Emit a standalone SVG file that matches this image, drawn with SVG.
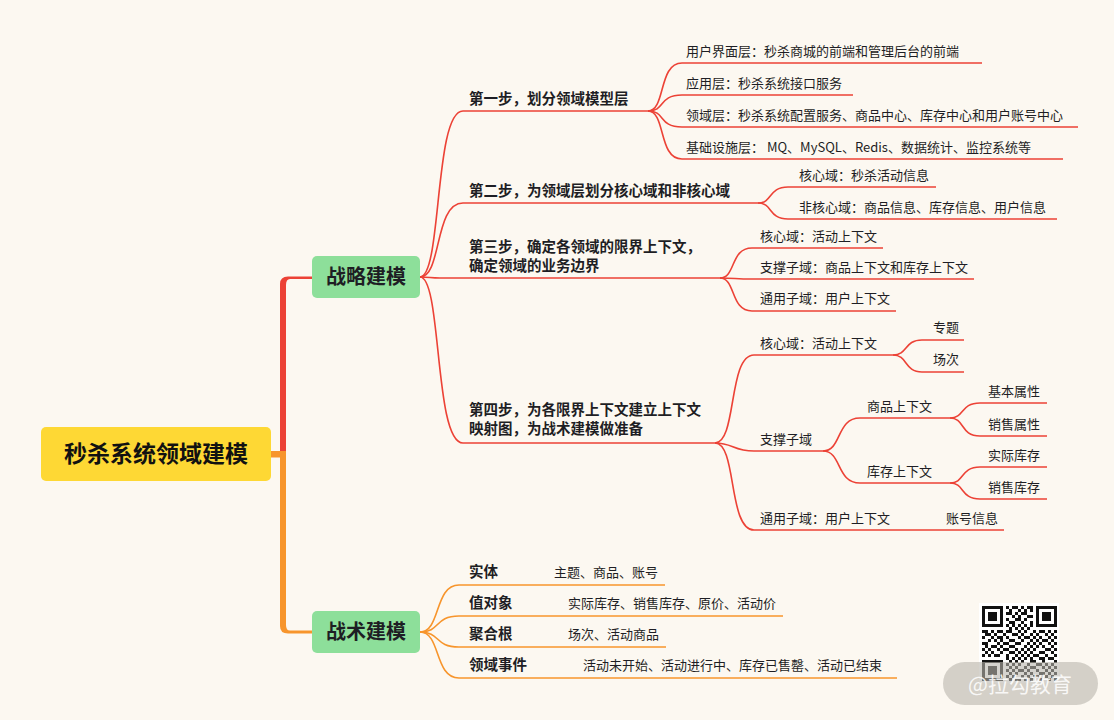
<svg xmlns="http://www.w3.org/2000/svg" width="1114" height="720" viewBox="0 0 1114 720">
<style>
text{font-family:"Noto Sans CJK SC","Noto Sans",sans-serif;fill:#1e1e24}
.l1{font-size:20px;font-weight:700;text-anchor:middle}
.root{font-size:23px;font-weight:700;text-anchor:middle;fill:#111}
.l2{font-size:14.5px;font-weight:700}
.l3{font-size:13px}
.r{fill:none;stroke:#ec4236;stroke-width:1.6}
.o{fill:none;stroke:#f7952c;stroke-width:1.6}
</style>
<rect width="1114" height="720" fill="#fcf8f1"/>
<g id="connectors">
  <path d="M280 454 L280 284 Q280 276.5 288 276.5 L312 276.5 L312 279 L290 279 Q286 279 286 285 L286 454 Z" fill="#ec4236"/>
  <path d="M280 454 L280 626 Q280 633.5 288 633.5 L312 633.5 L312 630.5 L290 630.5 Q286 630.5 286 625 L286 454 Z" fill="#f7952c"/>
  <rect x="271" y="451" width="15" height="6.5" fill="#f7952c"/>
  <path class="r" d="M420 277 C442 277 434 111 463 111 L648 111"/>
  <path class="r" d="M420 277 C442 277 434 203 463 203 L758 203"/>
  <path class="r" d="M420 277 C430 277 430 278 440 278 L720 278"/>
  <path class="r" d="M420 277 C442 277 434 443 463 443 L715 443"/>
  <path class="r" d="M648 111 C666 111 658 63 682 63 L982 63"/>
  <path class="r" d="M648 111 C666 111 658 95 682 95 L853 95"/>
  <path class="r" d="M648 111 C666 111 658 127 682 127 L1078 127"/>
  <path class="r" d="M648 111 C666 111 658 159 682 159 L1063 159"/>
  <path class="r" d="M758 203 C773 203 768 187 788 187 L936 187"/>
  <path class="r" d="M758 203 C773 203 768 219 788 219 L1057 219"/>
  <path class="r" d="M720 278 C736 278 730 248 752 248 L883 248"/>
  <path class="r" d="M720 278 C735 278 735 279 752 279 L974 279"/>
  <path class="r" d="M720 278 C736 278 730 311 752 311 L896 311"/>
  <path class="r" d="M715 443 C737 443 728 355 754 355 L893 355"/>
  <path class="r" d="M715 443 C733 443 733 451 754 451 L823 451"/>
  <path class="r" d="M715 443 C737 443 728 530 754 530 L1004 530"/>
  <path class="r" d="M893 355 C908 355 904 340 922 340 L964 340"/>
  <path class="r" d="M893 355 C908 355 904 372 922 372 L964 372"/>
  <path class="r" d="M823 451 C842 451 836 418 860 418 L950 418"/>
  <path class="r" d="M823 451 C842 451 836 483 860 483 L950 483"/>
  <path class="r" d="M950 418 C965 418 960 403 980 403 L1047 403"/>
  <path class="r" d="M950 418 C965 418 960 436 980 436 L1047 436"/>
  <path class="r" d="M950 483 C965 483 960 467 980 467 L1047 467"/>
  <path class="r" d="M950 483 C965 483 960 499 980 499 L1047 499"/>
  <path class="o" d="M420 632 C441 632 434 585 459 585 L665 585"/>
  <path class="o" d="M420 632 C441 632 434 616 459 616 L783 616"/>
  <path class="o" d="M420 632 C441 632 434 647 459 647 L666 647"/>
  <path class="o" d="M420 632 C441 632 434 678 459 678 L897 678"/>
</g>
<g id="root">
  <rect x="41" y="427" width="230" height="54" rx="5" fill="#fed834"/>
  <text class="root" x="156" y="462">秒杀系统领域建模</text>
</g>
<g id="strategic">
  <rect x="312" y="256" width="108" height="42" rx="5" fill="#8ddf9a"/>
  <text class="l1" x="366" y="284">战略建模</text>
</g>
<g id="tactical">
  <rect x="312" y="611" width="108" height="42" rx="5" fill="#8ddf9a"/>
  <text class="l1" x="366" y="639">战术建模</text>
</g>
<g id="step1">
  <text class="l2" x="469" y="104">第一步，划分领域模型层</text>
</g>
<g id="step1-children">
  <text class="l3" x="686" y="56">用户界面层：秒杀商城的前端和管理后台的前端</text>
  <text class="l3" x="686" y="88">应用层：秒杀系统接口服务</text>
  <text class="l3" x="686" y="120">领域层：秒杀系统配置服务、商品中心、库存中心和用户账号中心</text>
  <text class="l3" x="686" y="152">基础设施层： MQ、MySQL、Redis、数据统计、监控系统等</text>
</g>
<g id="step2">
  <text class="l2" x="469" y="196">第二步，为领域层划分核心域和非核心域</text>
</g>
<g id="step2-children">
  <text class="l3" x="799" y="180">核心域：秒杀活动信息</text>
  <text class="l3" x="799" y="212">非核心域：商品信息、库存信息、用户信息</text>
</g>
<g id="step3">
  <text class="l2" x="469" y="252">第三步，确定各领域的限界上下文，</text>
  <text class="l2" x="469" y="271">确定领域的业务边界</text>
</g>
<g id="step3-children">
  <text class="l3" x="760" y="241">核心域：活动上下文</text>
  <text class="l3" x="760" y="272">支撑子域：商品上下文和库存上下文</text>
  <text class="l3" x="760" y="303">通用子域：用户上下文</text>
</g>
<g id="step4">
  <text class="l2" x="469" y="415">第四步，为各限界上下文建立上下文</text>
  <text class="l2" x="469" y="434">映射图，为战术建模做准备</text>
</g>
<g id="step4-children">
  <text class="l3" x="760" y="348">核心域：活动上下文</text>
  <text class="l3" x="933" y="332">专题</text>
  <text class="l3" x="933" y="364">场次</text>
  <text class="l3" x="760" y="444">支撑子域</text>
  <text class="l3" x="867" y="411">商品上下文</text>
  <text class="l3" x="988" y="396">基本属性</text>
  <text class="l3" x="988" y="429">销售属性</text>
  <text class="l3" x="867" y="476">库存上下文</text>
  <text class="l3" x="988" y="460">实际库存</text>
  <text class="l3" x="988" y="492">销售库存</text>
  <text class="l3" x="760" y="523">通用子域：用户上下文</text>
  <text class="l3" x="946" y="523">账号信息</text>
</g>
<g id="tactical-children">
  <text class="l2" x="469" y="577">实体</text>
  <text class="l3" x="554" y="577">主题、商品、账号</text>
  <text class="l2" x="469" y="608">值对象</text>
  <text class="l3" x="568" y="608">实际库存、销售库存、原价、活动价</text>
  <text class="l2" x="469" y="639">聚合根</text>
  <text class="l3" x="568" y="639">场次、活动商品</text>
  <text class="l2" x="469" y="670">领域事件</text>
  <text class="l3" x="583" y="670">活动未开始、活动进行中、库存已售罄、活动已结束</text>
</g>
<g id="qrcode">
  <rect x="979" y="603" width="80" height="80" fill="#fff"/>
  <g transform="translate(982,606) scale(3)" fill="#111">
    <path fill-rule="evenodd" d="M0 0h7v7h-7z M1 1v5h5v-5z M2 2h3v3h-3z M18 0h7v7h-7z M19 1v5h5v-5z M20 2h3v3h-3z M0 18h7v7h-7z M1 19v5h5v-5z M2 20h3v3h-3z"/>
    <path d="M8 0h1v1h-1z M10 0h2v1h-2z M13 0h1v1h-1z M15 0h2v1h-2z M9 1h1v1h-1z M12 1h1v1h-1z M14 1h1v1h-1z M16 1h1v1h-1z M8 2h2v1h-2z M11 2h1v1h-1z M13 2h2v1h-2z M10 3h1v1h-1z M12 3h1v1h-1z M15 3h2v1h-2z M8 4h1v1h-1z M11 4h2v1h-2z M14 4h1v1h-1z M9 5h2v1h-2z M13 5h1v1h-1z M16 5h1v1h-1z M8 6h1v1h-1z M10 6h1v1h-1z M12 6h1v1h-1z M14 6h1v1h-1z M16 6h1v1h-1z M9 7h1v1h-1z M11 7h1v1h-1z M13 7h1v1h-1z M15 7h1v1h-1z M0 8h2v1h-2z M3 8h1v1h-1z M5 8h2v1h-2z M8 8h2v1h-2z M12 8h1v1h-1z M14 8h1v1h-1z M17 8h1v1h-1z M19 8h2v1h-2z M22 8h1v1h-1z M24 8h1v1h-1z M1 9h2v1h-2z M4 9h1v1h-1z M7 9h1v1h-1z M10 9h2v1h-2z M13 9h1v1h-1z M16 9h1v1h-1z M18 9h1v1h-1z M21 9h1v1h-1z M23 9h1v1h-1z M0 10h1v1h-1z M3 10h1v1h-1z M5 10h2v1h-2z M8 10h1v1h-1z M12 10h1v1h-1z M14 10h2v1h-2z M17 10h1v1h-1z M19 10h1v1h-1z M22 10h1v1h-1z M24 10h1v1h-1z M2 11h1v1h-1z M4 11h1v1h-1z M6 11h1v1h-1z M9 11h2v1h-2z M13 11h1v1h-1z M16 11h1v1h-1z M18 11h1v1h-1z M20 11h2v1h-2z M23 11h1v1h-1z M0 12h2v1h-2z M5 12h1v1h-1z M7 12h2v1h-2z M11 12h2v1h-2z M15 12h1v1h-1z M17 12h1v1h-1z M19 12h1v1h-1z M22 12h1v1h-1z M24 12h1v1h-1z M1 13h1v1h-1z M3 13h2v1h-2z M6 13h1v1h-1z M9 13h2v1h-2z M14 13h1v1h-1z M16 13h1v1h-1z M18 13h1v1h-1z M20 13h1v1h-1z M23 13h1v1h-1z M0 14h1v1h-1z M2 14h1v1h-1z M5 14h1v1h-1z M7 14h2v1h-2z M11 14h1v1h-1z M13 14h1v1h-1z M15 14h1v1h-1z M17 14h1v1h-1z M21 14h2v1h-2z M24 14h1v1h-1z M1 15h1v1h-1z M3 15h1v1h-1z M6 15h1v1h-1z M9 15h2v1h-2z M12 15h1v1h-1z M14 15h1v1h-1z M16 15h1v1h-1z M19 15h2v1h-2z M23 15h1v1h-1z M0 16h1v1h-1z M2 16h1v1h-1z M4 16h2v1h-2z M8 16h1v1h-1z M11 16h1v1h-1z M13 16h1v1h-1z M15 16h1v1h-1z M17 16h2v1h-2z M21 16h1v1h-1z M24 16h1v1h-1z M8 17h1v1h-1z M10 17h1v1h-1z M12 17h1v1h-1z M14 17h1v1h-1z M16 17h1v1h-1z M19 17h2v1h-2z M22 17h2v1h-2z M9 18h1v1h-1z M11 18h1v1h-1z M13 18h1v1h-1z M16 18h2v1h-2z M20 18h1v1h-1z M24 18h1v1h-1z M8 19h1v1h-1z M10 19h1v1h-1z M12 19h1v1h-1z M15 19h1v1h-1z M18 19h2v1h-2z M21 19h1v1h-1z M23 19h1v1h-1z M9 20h1v1h-1z M11 20h1v1h-1z M14 20h1v1h-1z M16 20h2v1h-2z M20 20h1v1h-1z M22 20h1v1h-1z M24 20h1v1h-1z M8 21h1v1h-1z M10 21h1v1h-1z M12 21h2v1h-2z M15 21h1v1h-1z M18 21h1v1h-1z M21 21h1v1h-1z M23 21h1v1h-1z M9 22h1v1h-1z M11 22h1v1h-1z M14 22h1v1h-1z M16 22h1v1h-1z M19 22h2v1h-2z M22 22h1v1h-1z M24 22h1v1h-1z M8 23h1v1h-1z M10 23h1v1h-1z M13 23h1v1h-1z M15 23h1v1h-1z M17 23h2v1h-2z M21 23h1v1h-1z M23 23h1v1h-1z M9 24h1v1h-1z M11 24h2v1h-2z M14 24h1v1h-1z M16 24h1v1h-1z M19 24h1v1h-1z M22 24h1v1h-1z M24 24h1v1h-1z"/>
  </g>
</g>
<g id="watermark">
  <rect x="943" y="662" width="155" height="43" rx="21.5" fill="#b9b6ae" fill-opacity="0.6"/>
  <text x="1020" y="692" font-size="21" text-anchor="middle" style="fill:#ffffff;fill-opacity:0.85">@拉勾教育</text>
</g>
</svg>
